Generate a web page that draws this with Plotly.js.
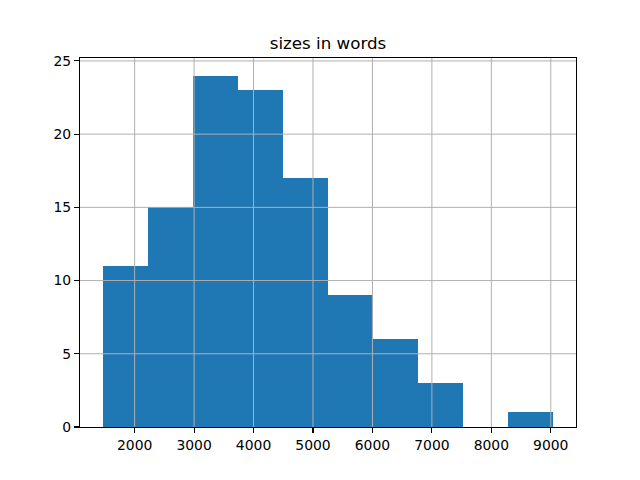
<!DOCTYPE html>
<html>
<head>
<meta charset="utf-8">
<script src="https://cdn.plot.ly/plotly-3.0.1.min.js"></script>
<style>html,body{margin:0;padding:0;background:#fff;}#chart{width:640px;height:480px;}</style>
</head>
<body>
<div id="chart"></div>
<script>
// Histogram data
var binEdges = [1460, 2218.5, 2977, 3735.5, 4494, 5252.5, 6011, 6769.5, 7528, 8286.5, 9045];
var counts = [11, 15, 24, 23, 17, 9, 6, 3, 0, 1];
var xTicks = [2000, 3000, 4000, 5000, 6000, 7000, 8000, 9000];
var yTicks = [0, 5, 10, 15, 20, 25];
var titleText = 'sizes in words';

var centers = [], widths = [];
for (var i = 0; i < counts.length; i++) {
  centers.push((binEdges[i] + binEdges[i + 1]) / 2);
  widths.push(binEdges[i + 1] - binEdges[i]);
}
var span = binEdges[binEdges.length - 1] - binEdges[0];
var xRange = [binEdges[0] - 0.05 * span, binEdges[binEdges.length - 1] + 0.05 * span];
var yMax = Math.max.apply(null, counts) * 1.05;

var gridColor = '#b0b0b0';
var shapes = [];
xTicks.forEach(function (v) {
  shapes.push({type: 'line', xref: 'x', yref: 'paper', x0: v, x1: v, y0: 0, y1: 1,
    line: {color: gridColor, width: 1}, layer: 'above'});
});
yTicks.forEach(function (v) {
  if (v === 0) return;
  shapes.push({type: 'line', xref: 'paper', yref: 'y', x0: 0, x1: 1, y0: v, y1: v,
    line: {color: gridColor, width: 1}, layer: 'above'});
});

var font = {family: 'DejaVu Sans', size: 13.9, color: '#000'};

Plotly.newPlot('chart', [{
  type: 'bar',
  x: centers,
  y: counts,
  width: widths,
  marker: {color: '#1f77b4', line: {width: 0}},
  hoverinfo: 'none'
}], {
  width: 640, height: 480,
  margin: {l: 80, r: 64, t: 58, b: 53, pad: 0},
  paper_bgcolor: '#fff', plot_bgcolor: '#fff',
  showlegend: false,
  title: {text: titleText, font: {family: 'DejaVu Sans', size: 16.7, color: '#000'},
    x: 0.5, xref: 'paper', xanchor: 'center', y: 0.91, yref: 'container', yanchor: 'middle'},
  xaxis: {range: xRange, tickvals: xTicks, ticktext: xTicks.map(String),
    showgrid: false, zeroline: false, showline: true, mirror: true, linecolor: '#000', linewidth: 1.1,
    ticks: 'outside', ticklen: 5, tickwidth: 1.1, tickcolor: '#000', tickfont: font},
  yaxis: {range: [0, yMax], tickvals: yTicks, ticktext: yTicks.map(String),
    showgrid: false, zeroline: false, showline: true, mirror: true, linecolor: '#000', linewidth: 1.1,
    ticks: 'outside', ticklen: 5, tickwidth: 1.1, tickcolor: '#000', tickfont: font},
  shapes: shapes,
  bargap: 0
}, {staticPlot: true});
</script>
</body>
</html>
